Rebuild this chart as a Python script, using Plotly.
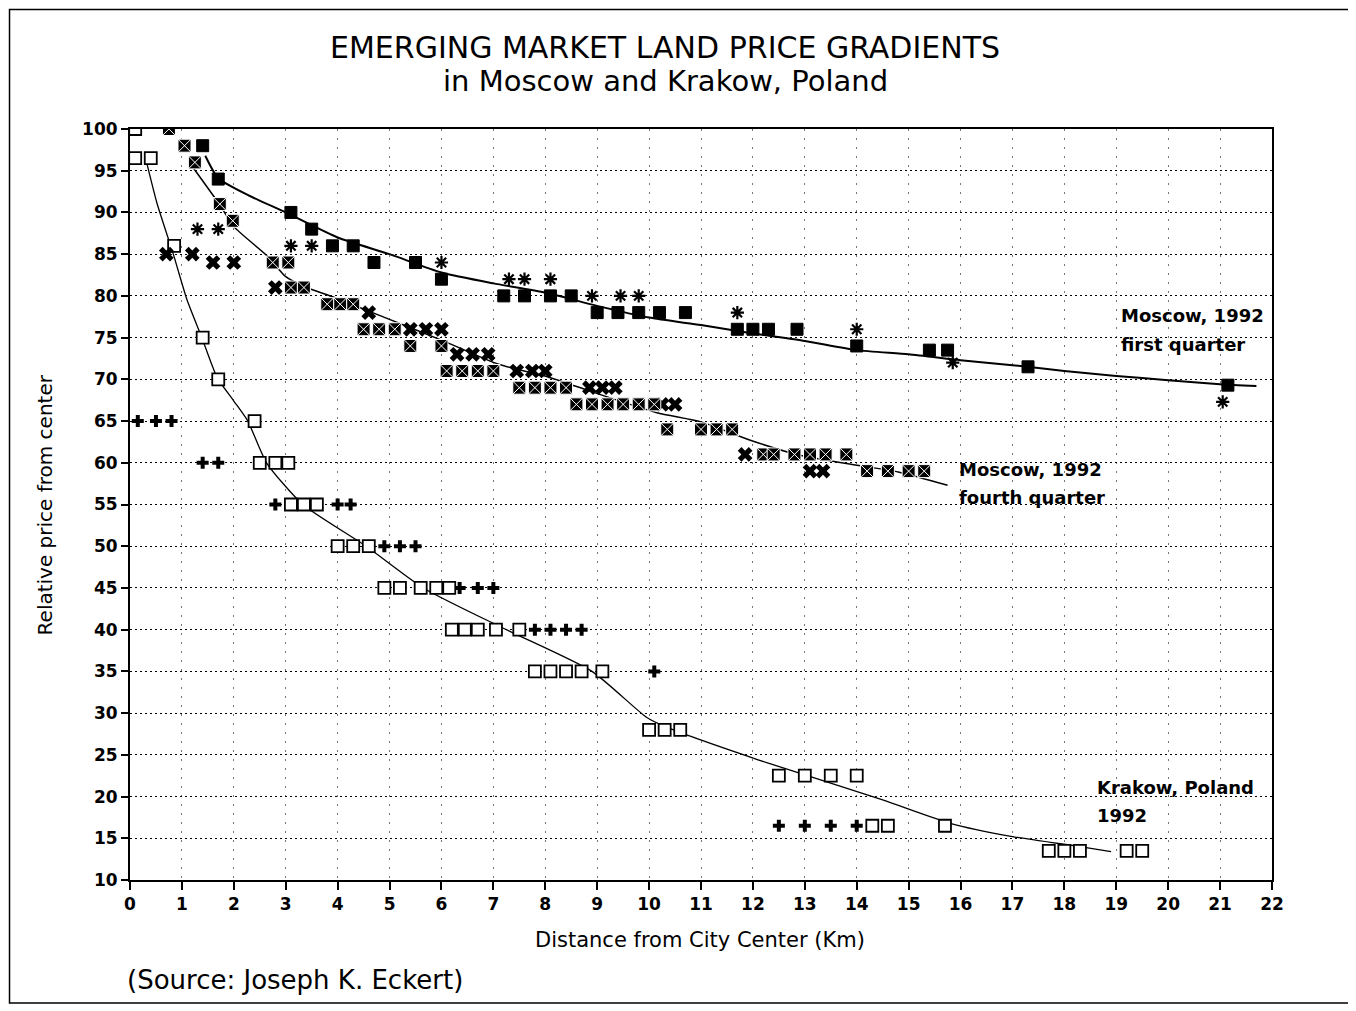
import plotly.graph_objects as go

# ---------------- data ----------------
# Moscow 1992, first quarter (filled squares)
q1_x = [1.4, 1.7, 3.1, 3.5, 3.9, 4.3, 4.7, 5.5, 6.0, 7.2, 7.6, 8.1, 8.5, 9.0, 9.4, 9.8, 10.2, 10.7,
        11.7, 12.0, 12.3, 12.85, 14.0, 15.4, 15.75, 17.3, 21.15]
q1_y = [98, 94, 90, 88, 86, 86, 84, 84, 82, 80, 80, 80, 80, 78, 78, 78, 78, 78,
        76, 76, 76, 76, 74, 73.5, 73.5, 71.5, 69.3]

# Moscow 1992, first quarter (asterisk observations)
ast_x = [1.3, 1.7, 3.1, 3.5, 6.0, 7.3, 7.6, 8.1, 8.9, 9.45, 9.8, 11.7, 14.0, 15.85, 21.05]
ast_y = [88, 88, 86, 86, 84, 82, 82, 82, 80, 80, 80, 78, 76, 72, 67.3]

# Moscow 1992, fourth quarter (patterned squares)
q4_x = [0.75, 1.05, 1.25, 1.73, 1.98, 2.75, 3.05, 3.1, 3.35, 3.8, 4.05, 4.3, 4.5, 4.8, 5.1,
        5.4, 6.0, 6.1, 6.4, 6.7, 7.0, 7.5, 7.8, 8.1, 8.4, 8.6, 8.9, 9.2, 9.5, 9.8, 10.1,
        10.35, 11.0, 11.3, 11.6, 12.2, 12.4, 12.8, 13.1, 13.4, 13.8, 14.2, 14.6, 15.0, 15.3]
q4_y = [100, 98, 96, 91, 89, 84, 84, 81, 81, 79, 79, 79, 76, 76, 76,
        74, 74, 71, 71, 71, 71, 69, 69, 69, 69, 67, 67, 67, 67, 67, 67,
        64, 64, 64, 64, 61, 61, 61, 61, 61, 61, 59, 59, 59, 59]

# Moscow 1992, fourth quarter (X observations)
x4_x = [0.7, 1.2, 1.6, 2.0, 2.8, 4.6, 5.4, 5.7, 6.0, 6.3, 6.6, 6.9, 7.45, 7.75, 8.0,
        8.85, 9.1, 9.35, 10.25, 10.5, 11.85, 13.1, 13.35]
x4_y = [85, 85, 84, 84, 81, 78, 76, 76, 76, 73, 73, 73, 71, 71, 71,
        69, 69, 69, 67, 67, 61, 59, 59]

# Krakow, Poland 1992 (open squares)
kr_x = [0.1, 0.1, 0.4, 0.85, 1.4, 1.7, 2.4, 2.5, 2.8, 3.05, 3.1, 3.35, 3.6, 4.0, 4.3, 4.6,
        4.9, 5.2, 5.6, 5.9, 6.15, 6.2, 6.45, 6.7, 7.05, 7.5, 7.8, 8.1, 8.4, 8.7, 9.1,
        10.0, 10.3, 10.6, 12.5, 13.0, 13.5, 14.0, 14.3, 14.6, 15.7, 17.7, 18.0, 18.3, 19.2, 19.5]
kr_y = [100, 96.5, 96.5, 86, 75, 70, 65, 60, 60, 60, 55, 55, 55, 50, 50, 50,
        45, 45, 45, 45, 45, 40, 40, 40, 40, 40, 35, 35, 35, 35, 35,
        28, 28, 28, 22.5, 22.5, 22.5, 22.5, 16.5, 16.5, 16.5, 13.5, 13.5, 13.5, 13.5, 13.5]

# Krakow (plus observations)
kp_x = [0.15, 0.5, 0.8, 1.4, 1.7, 2.8, 4.0, 4.25, 4.9, 5.2, 5.5, 6.35, 6.7, 7.0,
        7.8, 8.1, 8.4, 8.7, 10.1, 12.5, 13.0, 13.5, 14.0]
kp_y = [65, 65, 65, 60, 60, 55, 55, 55, 50, 50, 50, 45, 45, 45,
        40, 40, 40, 40, 35, 16.5, 16.5, 16.5, 16.5]

# fitted gradient curves
q1_curve_x = [1.45, 1.7, 2.3, 3.0, 4.0, 5.0, 6.0, 7.0, 8.0, 9.0, 10.0, 11.0, 12.0, 13.0,
              14.0, 15.0, 16.0, 17.0, 18.0, 19.0, 20.0, 21.0, 21.7]
q1_curve_y = [96.8, 94.1, 92.0, 90.0, 87.0, 85.0, 82.8, 81.5, 80.4, 78.8, 77.4, 76.5, 75.5, 74.6,
              73.5, 73.0, 72.3, 71.7, 71.0, 70.4, 69.9, 69.4, 69.2]
q4_curve_x = [1.2, 1.73, 2.0, 2.66, 3.0, 3.4, 3.9, 4.95, 6.0, 7.1, 8.1, 8.9, 10.15, 11.0,
              11.95, 12.9, 14.0, 14.8, 15.75]
q4_curve_y = [95.5, 90.9, 88.3, 84.7, 82.3, 81.0, 79.9, 77.3, 74.7, 71.8, 70.2, 68.5, 66.0, 64.9,
              62.7, 60.9, 59.7, 58.9, 57.3]
kr_curve_x = [0.3, 0.52, 0.83, 1.1, 1.39, 1.68, 2.0, 2.27, 2.63, 3.33, 4.55, 5.65, 7.25, 8.9,
              9.95, 10.3, 12.1, 14.5, 15.8, 17.0, 18.3, 18.9]
kr_curve_y = [96.5, 91.1, 85.1, 79.5, 74.9, 70.2, 67.4, 65, 60, 55, 50, 45, 40, 35,
              29.5, 28.4, 24.4, 19.6, 16.8, 15.2, 14.0, 13.4]

x_ticks = list(range(0, 23))
y_ticks = list(range(10, 101, 5))

# ---------------- figure ----------------
FONT = "DejaVu Sans, Arial, sans-serif"
fig = go.Figure()

# curves
fig.add_trace(go.Scatter(x=q1_curve_x, y=q1_curve_y, mode="lines",
                         line=dict(color="black", width=2, shape="spline", smoothing=0.6)))
fig.add_trace(go.Scatter(x=q4_curve_x, y=q4_curve_y, mode="lines",
                         line=dict(color="black", width=1.5, shape="spline", smoothing=0.6)))
fig.add_trace(go.Scatter(x=kr_curve_x, y=kr_curve_y, mode="lines",
                         line=dict(color="black", width=1.3, shape="spline", smoothing=0.6)))

# markers
fig.add_trace(go.Scatter(x=kp_x, y=kp_y, mode="markers",
                         marker=dict(symbol="cross", size=10, color="black", line=dict(width=0))))
fig.add_trace(go.Scatter(x=kr_x, y=kr_y, mode="markers",
                         marker=dict(symbol="square", size=12, color="white",
                                     line=dict(color="black", width=1.8))))
fig.add_trace(go.Scatter(x=ast_x, y=ast_y, mode="markers",
                         marker=dict(symbol="asterisk", size=11, color="black",
                                     line=dict(color="black", width=2.2))))
fig.add_trace(go.Scatter(x=x4_x, y=x4_y, mode="markers",
                         marker=dict(symbol="x", size=13, color="black", line=dict(width=0))))
fig.add_trace(go.Scatter(x=q4_x, y=q4_y, mode="markers",
                         marker=dict(symbol="square-x", size=13, color="black",
                                     line=dict(color="white", width=1))))
fig.add_trace(go.Scatter(x=q1_x, y=q1_y, mode="markers",
                         marker=dict(symbol="square", size=12, color="black",
                                     line=dict(color="black", width=1))))

annotations = [
    dict(text="EMERGING MARKET LAND PRICE GRADIENTS", x=0.4685, y=1.108,
         font=dict(size=30, family=FONT, color="black")),
    dict(text="in Moscow and Krakow, Poland", x=0.4685, y=1.064,
         font=dict(size=29, family=FONT, color="black")),
    dict(text="Distance from City Center (Km)", x=0.4992, y=-0.08,
         font=dict(size=21, family=FONT, color="black")),
    dict(text="Relative price from center", x=-0.0745, y=0.5, textangle=-90,
         font=dict(size=20, family=FONT, color="black")),
    dict(text="(Source: Joseph K. Eckert)", x=-0.0044, y=-0.133, xanchor="left",
         font=dict(size=26, family=FONT, color="black")),
    dict(text="<b>Moscow, 1992</b>", x=0.866, y=0.752, xanchor="left",
         font=dict(size=18, family=FONT, color="black")),
    dict(text="<b>first quarter</b>", x=0.866, y=0.713, xanchor="left",
         font=dict(size=18, family=FONT, color="black")),
    dict(text="<b>Moscow, 1992</b>", x=0.724, y=0.547, xanchor="left",
         font=dict(size=18, family=FONT, color="black")),
    dict(text="<b>fourth quarter</b>", x=0.724, y=0.509, xanchor="left",
         font=dict(size=18, family=FONT, color="black")),
    dict(text="<b>Krakow, Poland</b>", x=0.845, y=0.123, xanchor="left",
         font=dict(size=18, family=FONT, color="black")),
    dict(text="<b>1992</b>", x=0.845, y=0.086, xanchor="left",
         font=dict(size=18, family=FONT, color="black")),
]
for a in annotations:
    a.setdefault("xanchor", "center")
    a.update(xref="paper", yref="paper", yanchor="middle", showarrow=False)

fig.update_layout(
    width=1348, height=1003,
    margin=dict(l=122, r=84, t=121, b=131),
    paper_bgcolor="white", plot_bgcolor="white",
    showlegend=False,
    font=dict(family=FONT, color="black"),
    annotations=annotations,
    shapes=[dict(type="rect", xref="paper", yref="paper",
                 x0=-0.1055, x1=1.0683, y0=-0.1638, y1=1.159,
                 line=dict(color="black", width=1.5), layer="below")],
)
fig.update_xaxes(range=[0, 22], tickvals=x_ticks, ticktext=[str(v) for v in x_ticks],
                 showgrid=True, gridcolor="#777", griddash="2px,7px", gridwidth=1,
                 showline=True, linecolor="black", linewidth=2, mirror=True,
                 ticks="outside", ticklen=8, tickcolor="black", tickwidth=1.5,
                 tickfont=dict(size=17, family=FONT, color="black", weight="bold"),
                 zeroline=False)
fig.update_yaxes(range=[10, 100], tickvals=y_ticks, ticktext=[str(v) for v in y_ticks],
                 showgrid=True, gridcolor="black", griddash="2px,3px", gridwidth=1.2,
                 showline=True, linecolor="black", linewidth=2, mirror=True,
                 ticks="outside", ticklen=7, tickcolor="black", tickwidth=1.5,
                 tickfont=dict(size=17, family=FONT, color="black", weight="bold"),
                 zeroline=False)

fig.write_html("out.html")
